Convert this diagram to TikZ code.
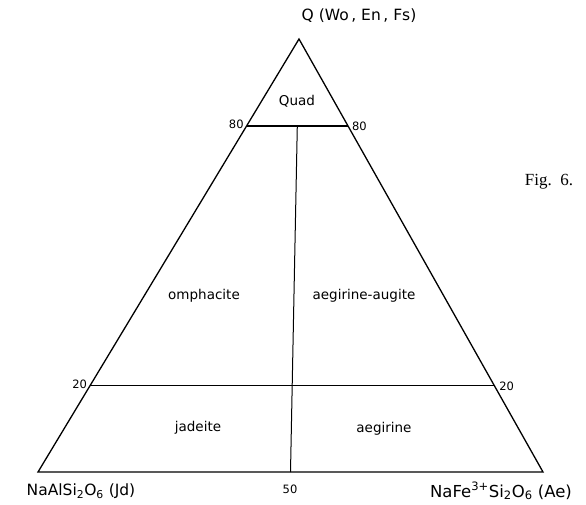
\documentclass[tikz,border=0pt]{standalone}
\usepackage{fontspec}
\setmainfont{DejaVu Sans}
\newfontfamily\figfont{Liberation Serif}
\usetikzlibrary{calc}
\begin{document}
\begin{tikzpicture}[x=1pt,y=-1pt,
  side/.style={line width=1.3pt},
  tie/.style={line width=1.8pt},
  split/.style={line width=1.0pt},
  lab/.style={font=\fontsize{13.5}{15}\selectfont, inner sep=0pt},
  num/.style={font=\fontsize{11.5}{13}\selectfont, inner sep=0pt},
  corner/.style={font=\fontsize{15.5}{17}\selectfont, inner sep=0pt}]
\useasboundingbox (0,0) rectangle (586,504);
\coordinate (A) at (299,39);
\coordinate (B) at (38,472);
\coordinate (C) at (543,472);
\coordinate (L8) at ($(A)!0.2!(B)$);
\coordinate (R8) at ($(A)!0.2!(C)$);
\coordinate (L2) at ($(A)!0.8!(B)$);
\coordinate (R2) at ($(A)!0.8!(C)$);
\coordinate (T5) at ($(L8)!0.5!(R8)$);
\coordinate (B5) at ($(B)!0.5!(C)$);
\draw[side, line join=miter] (A) -- (B) -- (C) -- cycle;
\draw[tie] (L8) -- (R8);
\draw[tie] (L2) -- (R2);
\draw[split] (T5) -- (B5);
\node[corner] (q) at (359,16) {Q (Wo{\,}, En{\,}, Fs)};
\node[corner] (jd) at (81,491) {NaAlSi\textsubscript{2}O\textsubscript{6} (Jd)};
\node[corner, font=\fontsize{16.5}{18}\selectfont] (ae) at (501,491) {NaFe\textsuperscript{3+}Si\textsubscript{2}O\textsubscript{6} (Ae)};
\node[num, anchor=east] (n8l) at ($(L8)+(-3,-1)$) {80};
\node[num, anchor=west] (n8r) at ($(R8)+(4,1)$) {80};
\node[num, anchor=east] (n2l) at ($(L2)+(-3,-1)$) {20};
\node[num, anchor=west] (n2r) at ($(R2)+(5,1)$) {20};
\node[num] (n5) at (290,489) {50};
\node[lab] (quad) at (297,101) {Quad};
\node[lab] (omph) at (204,296) {omphacite};
\node[lab] (aeau) at (364,296) {aegirine-augite};
\node[lab] (jade) at (198,428) {jadeite};
\node[lab] (aegi) at (384,429) {aegirine};
\node[font=\figfont\fontsize{17}{19}\selectfont, inner sep=0pt] (fig) at (549,182) {Fig.\ \ 6.};
\end{tikzpicture}
\end{document}
